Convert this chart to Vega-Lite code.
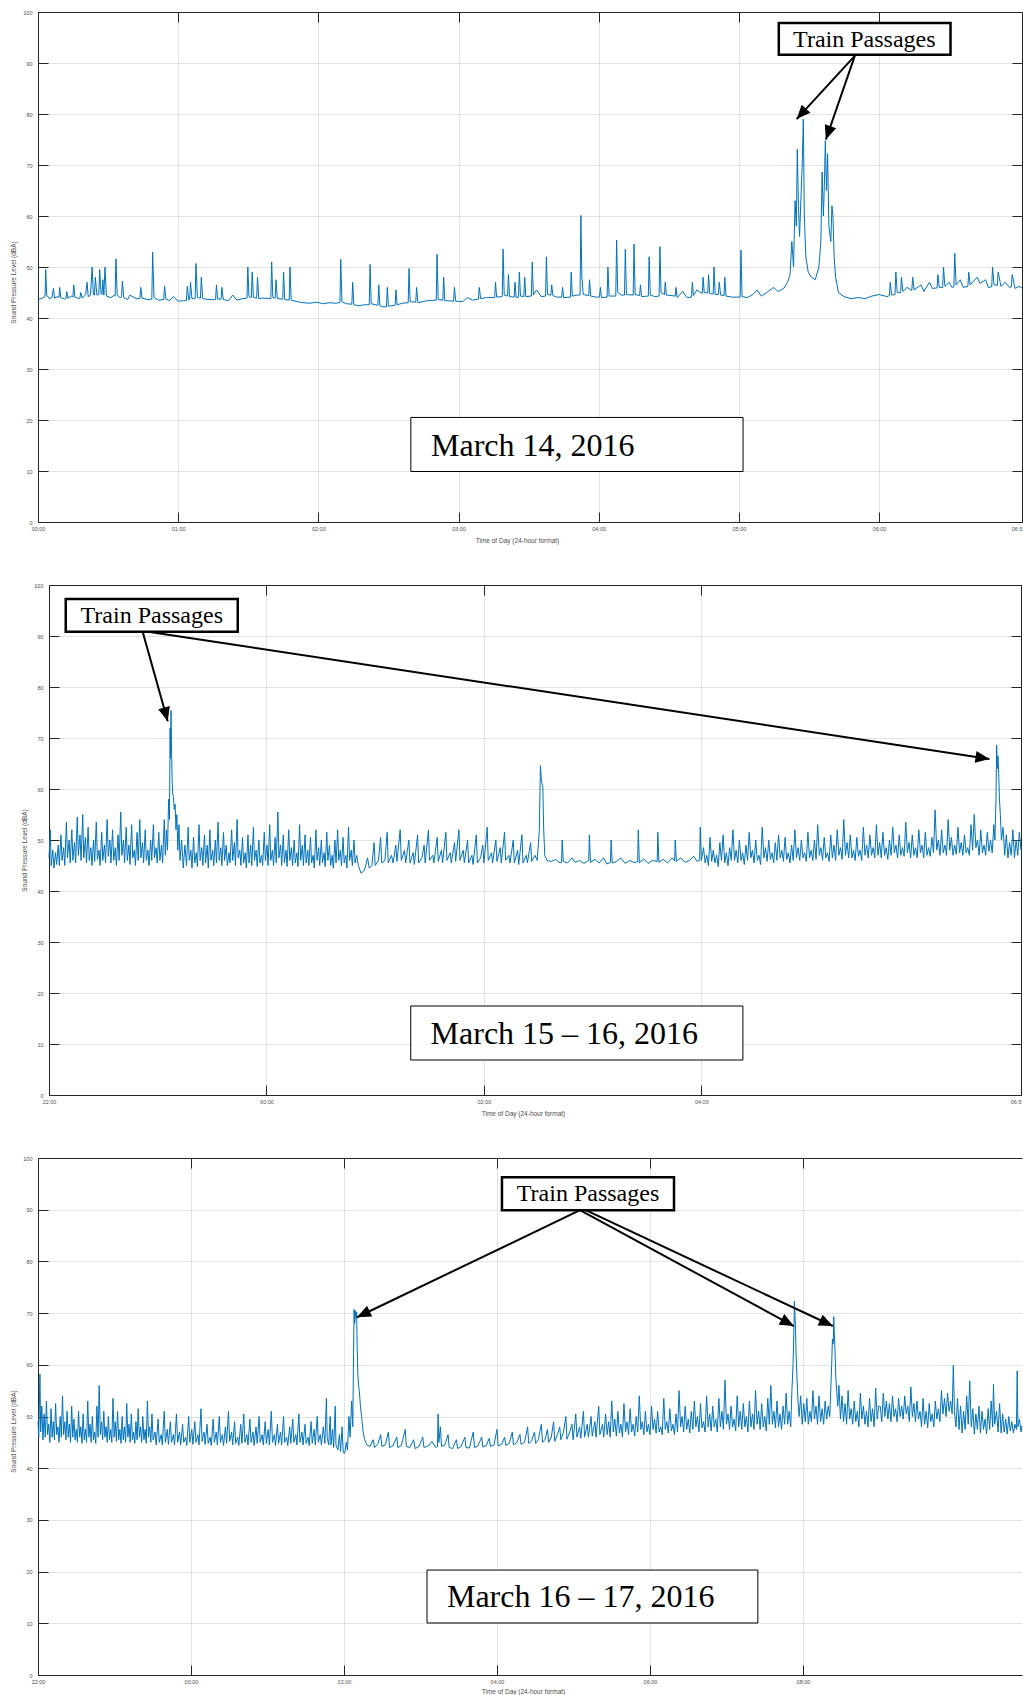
{
  "$schema": "https://vega.github.io/schema/vega-lite/v6.json",
  "padding": {"left": 10, "top": 10, "right": 0, "bottom": 0},
  "spacing": 39,
  "config": {
    "view": {"stroke": null},
    "axis": {
      "domainColor": "#262626", "domainWidth": 1,
      "tickColor": "#262626", "tickWidth": 1, "tickSize": -10,
      "labelFont": "Liberation Sans", "labelFontSize": 5.5, "labelColor": "#4d4d4d",
      "labelFlush": false, "labelOverlap": false,
      "titleFont": "Liberation Sans", "titleFontSize": 6.5, "titleFontWeight": "normal", "titleColor": "#4d4d4d",
      "titleAlign": "center", "titleBaseline": "middle",
      "gridColor": "#e3e3e3", "gridWidth": 1
    }
  },
  "datasets": {
    "boxes": [
      {"p": 1, "kind": "tp", "x": 5.285, "x2": 6.51, "y": 91.63, "y2": 97.84, "tx": 5.895, "ty": 94.6, "label": "Train Passages"},
      {"p": 1, "kind": "date", "x": 2.66, "x2": 5.03, "y": 9.9, "y2": 20.5, "tx": 3.53, "ty": 15.0, "label": "March 14, 2016"},
      {"p": 2, "kind": "tp", "x": 0.154, "x2": 1.736, "y": 90.84, "y2": 97.25, "tx": 0.945, "ty": 93.9, "label": "Train Passages"},
      {"p": 2, "kind": "date", "x": 3.327, "x2": 6.382, "y": 6.86, "y2": 17.45, "tx": 4.74, "ty": 12.0, "label": "March 15 – 16, 2016"},
      {"p": 3, "kind": "tp", "x": 6.065, "x2": 8.314, "y": 89.9, "y2": 96.3, "tx": 7.19, "ty": 93.0, "label": "Train Passages"},
      {"p": 3, "kind": "date", "x": 5.085, "x2": 9.41, "y": 10.06, "y2": 20.3, "tx": 7.094, "ty": 15.0, "label": "March 16 – 17, 2016"}
    ],
    "arrows": [
      {"p": 1, "id": "a1", "x": 5.827, "y": 91.4, "x2": 5.412, "y2": 79.0},
      {"p": 1, "id": "a2", "x": 5.827, "y": 91.4, "x2": 5.621, "y2": 75.0},
      {"p": 2, "id": "b1", "x": 0.862, "y": 90.8, "x2": 1.092, "y2": 73.3},
      {"p": 2, "id": "b2", "x": 0.927, "y": 90.8, "x2": 8.65, "y2": 65.9},
      {"p": 3, "id": "c1", "x": 7.085, "y": 89.9, "x2": 4.17, "y2": 69.2},
      {"p": 3, "id": "c2", "x": 7.085, "y": 89.9, "x2": 9.88, "y2": 67.5},
      {"p": 3, "id": "c3", "x": 7.16, "y": 89.9, "x2": 10.39, "y2": 67.5}
    ],
    "s1": [
      {"h":0.000,"v":43.6},{"h":0.030,"v":43.9},{"h":0.050,"v":44.2},{"h":0.055,"v":49.5},{"h":0.062,"v":44.5},{"h":0.080,"v":43.8},{"h":0.100,"v":44.0},{"h":0.110,"v":45.8},{"h":0.118,"v":43.9},{"h":0.140,"v":44.2},{"h":0.149,"v":44.0},{"h":0.155,"v":46.0},{"h":0.162,"v":44.0},{"h":0.190,"v":43.7},{"h":0.199,"v":43.8},{"h":0.205,"v":45.2},{"h":0.212,"v":43.9},{"h":0.240,"v":44.3},{"h":0.249,"v":44.1},{"h":0.255,"v":46.5},{"h":0.263,"v":44.1},{"h":0.290,"v":43.8},{"h":0.299,"v":43.9},{"h":0.305,"v":45.0},{"h":0.315,"v":43.9},{"h":0.340,"v":44.6},{"h":0.350,"v":47.0},{"h":0.358,"v":44.2},{"h":0.375,"v":44.5},{"h":0.386,"v":50.0},{"h":0.395,"v":44.6},{"h":0.403,"v":44.5},{"h":0.409,"v":48.0},{"h":0.420,"v":44.5},{"h":0.434,"v":44.6},{"h":0.440,"v":49.5},{"h":0.450,"v":44.8},{"h":0.457,"v":44.6},{"h":0.463,"v":47.5},{"h":0.470,"v":44.5},{"h":0.478,"v":50.0},{"h":0.488,"v":44.3},{"h":0.520,"v":44.0},{"h":0.540,"v":44.4},{"h":0.550,"v":44.3},{"h":0.556,"v":51.6},{"h":0.565,"v":44.5},{"h":0.585,"v":44.0},{"h":0.596,"v":44.1},{"h":0.602,"v":47.2},{"h":0.612,"v":44.0},{"h":0.640,"v":43.6},{"h":0.656,"v":44.5},{"h":0.700,"v":43.8},{"h":0.727,"v":43.8},{"h":0.733,"v":46.0},{"h":0.742,"v":43.9},{"h":0.780,"v":43.6},{"h":0.812,"v":43.7},{"h":0.818,"v":52.9},{"h":0.828,"v":44.0},{"h":0.860,"v":43.5},{"h":0.897,"v":43.6},{"h":0.903,"v":46.3},{"h":0.912,"v":43.7},{"h":0.940,"v":43.4},{"h":0.965,"v":44.2},{"h":1.000,"v":43.3},{"h":1.040,"v":43.4},{"h":1.059,"v":43.4},{"h":1.065,"v":46.2},{"h":1.075,"v":43.6},{"h":1.082,"v":43.6},{"h":1.088,"v":47.0},{"h":1.098,"v":43.8},{"h":1.121,"v":43.8},{"h":1.127,"v":50.7},{"h":1.137,"v":44.0},{"h":1.159,"v":43.9},{"h":1.165,"v":48.0},{"h":1.175,"v":43.8},{"h":1.220,"v":43.6},{"h":1.267,"v":43.6},{"h":1.273,"v":46.5},{"h":1.282,"v":43.7},{"h":1.306,"v":43.7},{"h":1.312,"v":46.0},{"h":1.322,"v":43.6},{"h":1.360,"v":43.4},{"h":1.389,"v":44.5},{"h":1.420,"v":43.5},{"h":1.460,"v":43.8},{"h":1.491,"v":43.9},{"h":1.497,"v":50.0},{"h":1.505,"v":44.2},{"h":1.522,"v":44.0},{"h":1.528,"v":49.0},{"h":1.537,"v":44.0},{"h":1.560,"v":43.9},{"h":1.566,"v":48.0},{"h":1.575,"v":43.8},{"h":1.600,"v":43.9},{"h":1.661,"v":43.8},{"h":1.667,"v":51.0},{"h":1.675,"v":44.0},{"h":1.692,"v":43.9},{"h":1.698,"v":47.5},{"h":1.707,"v":43.8},{"h":1.746,"v":43.7},{"h":1.752,"v":49.0},{"h":1.760,"v":43.6},{"h":1.792,"v":43.5},{"h":1.798,"v":50.0},{"h":1.806,"v":43.5},{"h":1.850,"v":43.2},{"h":1.890,"v":43.0},{"h":1.940,"v":42.9},{"h":1.991,"v":43.1},{"h":2.030,"v":42.8},{"h":2.083,"v":43.0},{"h":2.120,"v":42.9},{"h":2.154,"v":43.0},{"h":2.160,"v":51.5},{"h":2.168,"v":43.2},{"h":2.200,"v":42.8},{"h":2.239,"v":42.7},{"h":2.245,"v":47.0},{"h":2.253,"v":42.6},{"h":2.290,"v":42.4},{"h":2.330,"v":42.6},{"h":2.363,"v":42.6},{"h":2.369,"v":50.5},{"h":2.377,"v":42.8},{"h":2.425,"v":42.5},{"h":2.431,"v":46.5},{"h":2.439,"v":42.4},{"h":2.460,"v":42.2},{"h":2.486,"v":42.2},{"h":2.492,"v":46.0},{"h":2.500,"v":42.3},{"h":2.548,"v":42.5},{"h":2.554,"v":45.5},{"h":2.562,"v":42.6},{"h":2.600,"v":42.9},{"h":2.641,"v":43.0},{"h":2.647,"v":49.7},{"h":2.655,"v":43.2},{"h":2.695,"v":43.1},{"h":2.701,"v":46.0},{"h":2.710,"v":43.0},{"h":2.778,"v":43.4},{"h":2.841,"v":43.5},{"h":2.847,"v":52.5},{"h":2.855,"v":43.6},{"h":2.888,"v":43.5},{"h":2.894,"v":48.0},{"h":2.902,"v":43.4},{"h":2.965,"v":43.3},{"h":2.971,"v":46.0},{"h":2.980,"v":43.3},{"h":3.030,"v":43.2},{"h":3.063,"v":44.0},{"h":3.100,"v":43.5},{"h":3.142,"v":43.7},{"h":3.148,"v":46.0},{"h":3.158,"v":43.8},{"h":3.200,"v":44.0},{"h":3.258,"v":44.0},{"h":3.264,"v":47.0},{"h":3.272,"v":44.1},{"h":3.312,"v":44.2},{"h":3.318,"v":53.5},{"h":3.326,"v":44.5},{"h":3.350,"v":44.3},{"h":3.356,"v":48.5},{"h":3.364,"v":44.2},{"h":3.397,"v":44.1},{"h":3.403,"v":47.0},{"h":3.411,"v":44.0},{"h":3.428,"v":44.1},{"h":3.434,"v":49.0},{"h":3.442,"v":44.3},{"h":3.466,"v":44.2},{"h":3.472,"v":48.0},{"h":3.480,"v":44.2},{"h":3.520,"v":44.3},{"h":3.526,"v":51.0},{"h":3.534,"v":44.5},{"h":3.557,"v":45.5},{"h":3.590,"v":44.2},{"h":3.621,"v":44.3},{"h":3.627,"v":52.0},{"h":3.635,"v":44.6},{"h":3.659,"v":44.5},{"h":3.665,"v":46.5},{"h":3.673,"v":44.4},{"h":3.700,"v":44.1},{"h":3.736,"v":44.1},{"h":3.742,"v":46.0},{"h":3.750,"v":44.0},{"h":3.798,"v":44.1},{"h":3.804,"v":49.0},{"h":3.812,"v":44.3},{"h":3.850,"v":44.5},{"h":3.867,"v":44.5},{"h":3.873,"v":60.1},{"h":3.880,"v":48.0},{"h":3.890,"v":44.6},{"h":3.929,"v":44.4},{"h":3.935,"v":47.5},{"h":3.943,"v":44.3},{"h":3.980,"v":44.1},{"h":4.006,"v":44.1},{"h":4.012,"v":46.0},{"h":4.020,"v":44.0},{"h":4.060,"v":44.1},{"h":4.066,"v":50.0},{"h":4.074,"v":44.3},{"h":4.122,"v":44.3},{"h":4.128,"v":55.3},{"h":4.136,"v":45.0},{"h":4.160,"v":44.5},{"h":4.184,"v":44.5},{"h":4.190,"v":53.5},{"h":4.198,"v":44.6},{"h":4.246,"v":44.5},{"h":4.252,"v":54.5},{"h":4.260,"v":44.6},{"h":4.292,"v":44.4},{"h":4.298,"v":46.5},{"h":4.306,"v":44.2},{"h":4.354,"v":44.3},{"h":4.360,"v":52.0},{"h":4.368,"v":44.5},{"h":4.400,"v":44.2},{"h":4.431,"v":44.3},{"h":4.437,"v":54.0},{"h":4.445,"v":45.0},{"h":4.469,"v":44.6},{"h":4.475,"v":47.0},{"h":4.483,"v":44.5},{"h":4.546,"v":44.3},{"h":4.552,"v":46.0},{"h":4.560,"v":44.0},{"h":4.600,"v":45.2},{"h":4.630,"v":44.0},{"h":4.662,"v":44.1},{"h":4.668,"v":47.0},{"h":4.676,"v":44.4},{"h":4.700,"v":45.5},{"h":4.739,"v":44.8},{"h":4.745,"v":48.0},{"h":4.753,"v":45.0},{"h":4.778,"v":44.9},{"h":4.784,"v":48.5},{"h":4.792,"v":44.8},{"h":4.817,"v":44.7},{"h":4.823,"v":50.0},{"h":4.831,"v":44.6},{"h":4.854,"v":44.6},{"h":4.860,"v":47.0},{"h":4.870,"v":44.5},{"h":4.894,"v":44.4},{"h":4.900,"v":48.0},{"h":4.908,"v":44.3},{"h":4.950,"v":44.1},{"h":5.009,"v":44.1},{"h":5.015,"v":53.3},{"h":5.023,"v":44.2},{"h":5.060,"v":44.0},{"h":5.100,"v":44.6},{"h":5.131,"v":45.5},{"h":5.160,"v":44.3},{"h":5.200,"v":45.0},{"h":5.247,"v":46.0},{"h":5.280,"v":45.2},{"h":5.320,"v":45.8},{"h":5.347,"v":47.0},{"h":5.365,"v":48.5},{"h":5.378,"v":55.0},{"h":5.390,"v":50.0},{"h":5.401,"v":63.0},{"h":5.410,"v":58.0},{"h":5.417,"v":73.1},{"h":5.425,"v":62.0},{"h":5.433,"v":56.0},{"h":5.445,"v":65.0},{"h":5.452,"v":70.0},{"h":5.460,"v":79.0},{"h":5.467,"v":60.0},{"h":5.478,"v":52.0},{"h":5.495,"v":49.0},{"h":5.517,"v":48.0},{"h":5.545,"v":47.5},{"h":5.571,"v":50.0},{"h":5.585,"v":55.0},{"h":5.594,"v":68.6},{"h":5.603,"v":60.0},{"h":5.610,"v":66.0},{"h":5.617,"v":74.8},{"h":5.625,"v":65.0},{"h":5.633,"v":72.2},{"h":5.642,"v":58.0},{"h":5.656,"v":55.0},{"h":5.664,"v":62.0},{"h":5.671,"v":60.0},{"h":5.680,"v":52.0},{"h":5.690,"v":48.0},{"h":5.710,"v":45.0},{"h":5.750,"v":44.2},{"h":5.800,"v":43.8},{"h":5.850,"v":44.0},{"h":5.903,"v":43.8},{"h":5.950,"v":44.3},{"h":6.000,"v":44.6},{"h":6.057,"v":44.2},{"h":6.074,"v":44.4},{"h":6.080,"v":47.0},{"h":6.090,"v":44.5},{"h":6.114,"v":44.6},{"h":6.120,"v":49.0},{"h":6.130,"v":45.0},{"h":6.154,"v":45.0},{"h":6.160,"v":48.0},{"h":6.170,"v":45.2},{"h":6.200,"v":46.0},{"h":6.234,"v":45.4},{"h":6.240,"v":48.0},{"h":6.250,"v":45.5},{"h":6.300,"v":46.5},{"h":6.320,"v":45.2},{"h":6.360,"v":47.0},{"h":6.380,"v":45.8},{"h":6.414,"v":45.9},{"h":6.420,"v":48.5},{"h":6.430,"v":46.0},{"h":6.454,"v":46.0},{"h":6.460,"v":50.0},{"h":6.470,"v":46.2},{"h":6.500,"v":47.0},{"h":6.520,"v":46.0},{"h":6.534,"v":46.1},{"h":6.540,"v":52.7},{"h":6.550,"v":46.5},{"h":6.580,"v":47.5},{"h":6.600,"v":46.0},{"h":6.634,"v":46.2},{"h":6.640,"v":49.0},{"h":6.650,"v":46.5},{"h":6.700,"v":48.0},{"h":6.720,"v":46.8},{"h":6.760,"v":47.5},{"h":6.780,"v":46.0},{"h":6.804,"v":46.1},{"h":6.810,"v":50.0},{"h":6.820,"v":46.5},{"h":6.844,"v":46.4},{"h":6.850,"v":49.0},{"h":6.870,"v":46.2},{"h":6.900,"v":47.0},{"h":6.930,"v":46.0},{"h":6.944,"v":46.1},{"h":6.950,"v":48.5},{"h":6.970,"v":45.8},{"h":7.000,"v":46.2},{"h":7.020,"v":45.9}
    ],
    "s2": [
      {"h":0.000,"v":46.5},{"h":0.012,"v":52.0},{"h":0.020,"v":45.0},{"h":0.035,"v":48.0},{"h":0.045,"v":44.5},{"h":0.060,"v":47.5},{"h":0.070,"v":45.2},{"h":0.085,"v":49.0},{"h":0.095,"v":45.0},{"h":0.110,"v":51.0},{"h":0.120,"v":46.0},{"h":0.135,"v":48.5},{"h":0.145,"v":45.0},{"h":0.160,"v":53.5},{"h":0.170,"v":46.5},{"h":0.185,"v":50.0},{"h":0.195,"v":45.5},{"h":0.210,"v":52.0},{"h":0.220,"v":46.0},{"h":0.235,"v":49.5},{"h":0.245,"v":45.5},{"h":0.260,"v":54.5},{"h":0.270,"v":47.0},{"h":0.285,"v":51.0},{"h":0.295,"v":46.0},{"h":0.310,"v":55.0},{"h":0.320,"v":46.5},{"h":0.335,"v":50.5},{"h":0.345,"v":45.5},{"h":0.360,"v":52.5},{"h":0.370,"v":46.0},{"h":0.385,"v":48.5},{"h":0.395,"v":45.0},{"h":0.410,"v":50.0},{"h":0.420,"v":45.8},{"h":0.435,"v":53.5},{"h":0.445,"v":46.2},{"h":0.460,"v":48.0},{"h":0.470,"v":45.0},{"h":0.485,"v":51.5},{"h":0.495,"v":46.0},{"h":0.510,"v":49.0},{"h":0.520,"v":45.5},{"h":0.535,"v":54.0},{"h":0.545,"v":46.8},{"h":0.560,"v":50.0},{"h":0.570,"v":45.5},{"h":0.585,"v":52.0},{"h":0.595,"v":46.0},{"h":0.610,"v":48.5},{"h":0.620,"v":45.0},{"h":0.635,"v":51.0},{"h":0.645,"v":46.0},{"h":0.660,"v":55.5},{"h":0.670,"v":47.0},{"h":0.685,"v":50.0},{"h":0.695,"v":45.5},{"h":0.710,"v":52.5},{"h":0.720,"v":46.0},{"h":0.735,"v":49.0},{"h":0.745,"v":45.2},{"h":0.760,"v":53.0},{"h":0.770,"v":46.5},{"h":0.785,"v":48.0},{"h":0.795,"v":45.0},{"h":0.810,"v":51.5},{"h":0.820,"v":46.0},{"h":0.835,"v":54.0},{"h":0.845,"v":46.5},{"h":0.860,"v":49.5},{"h":0.870,"v":45.5},{"h":0.885,"v":52.0},{"h":0.895,"v":46.0},{"h":0.910,"v":48.0},{"h":0.920,"v":45.0},{"h":0.935,"v":50.0},{"h":0.945,"v":46.0},{"h":0.960,"v":53.0},{"h":0.970,"v":46.5},{"h":0.985,"v":48.5},{"h":0.995,"v":45.5},{"h":1.010,"v":51.5},{"h":1.020,"v":46.0},{"h":1.035,"v":49.0},{"h":1.045,"v":45.5},{"h":1.060,"v":54.0},{"h":1.070,"v":47.0},{"h":1.080,"v":52.0},{"h":1.090,"v":48.0},{"h":1.100,"v":58.0},{"h":1.108,"v":54.0},{"h":1.114,"v":72.0},{"h":1.118,"v":66.0},{"h":1.122,"v":75.4},{"h":1.127,"v":68.0},{"h":1.132,"v":62.0},{"h":1.138,"v":59.0},{"h":1.145,"v":58.5},{"h":1.152,"v":56.0},{"h":1.160,"v":57.0},{"h":1.168,"v":52.0},{"h":1.176,"v":55.0},{"h":1.185,"v":48.0},{"h":1.195,"v":53.0},{"h":1.205,"v":46.0},{"h":1.220,"v":50.0},{"h":1.235,"v":44.5},{"h":1.250,"v":49.0},{"h":1.265,"v":45.0},{"h":1.280,"v":52.5},{"h":1.290,"v":46.0},{"h":1.305,"v":48.0},{"h":1.315,"v":44.5},{"h":1.330,"v":50.5},{"h":1.340,"v":45.5},{"h":1.355,"v":47.5},{"h":1.365,"v":44.8},{"h":1.380,"v":53.0},{"h":1.390,"v":46.0},{"h":1.405,"v":48.5},{"h":1.415,"v":45.0},{"h":1.430,"v":51.0},{"h":1.440,"v":45.5},{"h":1.455,"v":49.0},{"h":1.465,"v":44.5},{"h":1.480,"v":52.0},{"h":1.490,"v":46.0},{"h":1.505,"v":48.0},{"h":1.515,"v":45.0},{"h":1.530,"v":50.0},{"h":1.540,"v":45.5},{"h":1.555,"v":53.5},{"h":1.565,"v":46.0},{"h":1.580,"v":48.5},{"h":1.590,"v":45.0},{"h":1.605,"v":51.5},{"h":1.615,"v":46.0},{"h":1.630,"v":49.0},{"h":1.640,"v":45.0},{"h":1.655,"v":47.5},{"h":1.665,"v":45.5},{"h":1.680,"v":52.0},{"h":1.690,"v":46.0},{"h":1.705,"v":49.5},{"h":1.715,"v":45.0},{"h":1.730,"v":54.0},{"h":1.740,"v":46.5},{"h":1.755,"v":48.0},{"h":1.765,"v":45.0},{"h":1.780,"v":50.5},{"h":1.790,"v":45.5},{"h":1.805,"v":47.5},{"h":1.815,"v":44.5},{"h":1.830,"v":51.0},{"h":1.840,"v":45.5},{"h":1.855,"v":49.0},{"h":1.865,"v":45.0},{"h":1.880,"v":52.5},{"h":1.890,"v":46.0},{"h":1.905,"v":48.0},{"h":1.915,"v":44.8},{"h":1.930,"v":50.0},{"h":1.940,"v":45.5},{"h":1.955,"v":47.0},{"h":1.965,"v":45.0},{"h":1.980,"v":51.5},{"h":1.990,"v":46.0},{"h":2.005,"v":49.0},{"h":2.015,"v":45.0},{"h":2.030,"v":53.0},{"h":2.040,"v":46.0},{"h":2.055,"v":48.0},{"h":2.065,"v":45.0},{"h":2.080,"v":50.5},{"h":2.090,"v":45.5},{"h":2.105,"v":55.5},{"h":2.115,"v":46.5},{"h":2.130,"v":49.0},{"h":2.140,"v":45.0},{"h":2.155,"v":51.0},{"h":2.165,"v":45.5},{"h":2.180,"v":48.0},{"h":2.190,"v":44.8},{"h":2.205,"v":52.0},{"h":2.215,"v":46.0},{"h":2.230,"v":48.5},{"h":2.240,"v":45.0},{"h":2.255,"v":50.0},{"h":2.265,"v":45.5},{"h":2.280,"v":47.5},{"h":2.290,"v":44.8},{"h":2.305,"v":53.0},{"h":2.315,"v":46.0},{"h":2.330,"v":49.0},{"h":2.340,"v":45.0},{"h":2.355,"v":51.0},{"h":2.365,"v":45.5},{"h":2.380,"v":48.0},{"h":2.390,"v":45.0},{"h":2.405,"v":50.5},{"h":2.415,"v":45.5},{"h":2.430,"v":47.0},{"h":2.440,"v":44.5},{"h":2.455,"v":52.0},{"h":2.465,"v":46.0},{"h":2.480,"v":48.5},{"h":2.490,"v":45.0},{"h":2.505,"v":50.0},{"h":2.515,"v":45.5},{"h":2.530,"v":47.5},{"h":2.540,"v":44.8},{"h":2.555,"v":51.5},{"h":2.565,"v":46.0},{"h":2.580,"v":49.0},{"h":2.590,"v":45.0},{"h":2.605,"v":47.0},{"h":2.615,"v":44.5},{"h":2.630,"v":50.0},{"h":2.640,"v":45.5},{"h":2.655,"v":52.0},{"h":2.665,"v":46.0},{"h":2.680,"v":48.0},{"h":2.690,"v":45.0},{"h":2.705,"v":50.5},{"h":2.715,"v":45.5},{"h":2.730,"v":47.0},{"h":2.740,"v":44.5},{"h":2.755,"v":52.5},{"h":2.765,"v":46.0},{"h":2.780,"v":48.0},{"h":2.790,"v":45.0},{"h":2.805,"v":50.0},{"h":2.815,"v":45.5},{"h":2.830,"v":47.0},{"h":2.845,"v":45.0},{"h":2.870,"v":43.5},{"h":2.900,"v":44.0},{"h":2.930,"v":46.5},{"h":2.945,"v":44.5},{"h":2.970,"v":45.0},{"h":2.990,"v":49.5},{"h":3.000,"v":45.0},{"h":3.030,"v":46.0},{"h":3.050,"v":50.5},{"h":3.060,"v":45.5},{"h":3.090,"v":46.0},{"h":3.110,"v":51.5},{"h":3.120,"v":45.5},{"h":3.150,"v":47.0},{"h":3.165,"v":45.5},{"h":3.190,"v":49.0},{"h":3.200,"v":45.8},{"h":3.230,"v":52.0},{"h":3.240,"v":46.0},{"h":3.270,"v":48.0},{"h":3.280,"v":45.5},{"h":3.310,"v":50.0},{"h":3.320,"v":45.5},{"h":3.350,"v":47.5},{"h":3.360,"v":45.2},{"h":3.390,"v":51.0},{"h":3.400,"v":45.5},{"h":3.430,"v":46.5},{"h":3.450,"v":49.0},{"h":3.460,"v":45.5},{"h":3.490,"v":52.0},{"h":3.500,"v":46.0},{"h":3.530,"v":47.0},{"h":3.540,"v":45.5},{"h":3.570,"v":50.5},{"h":3.580,"v":45.8},{"h":3.610,"v":48.0},{"h":3.620,"v":45.5},{"h":3.650,"v":51.5},{"h":3.660,"v":46.0},{"h":3.690,"v":47.5},{"h":3.700,"v":45.5},{"h":3.730,"v":49.5},{"h":3.740,"v":45.8},{"h":3.770,"v":52.0},{"h":3.780,"v":46.0},{"h":3.810,"v":48.0},{"h":3.820,"v":45.5},{"h":3.850,"v":50.0},{"h":3.860,"v":45.5},{"h":3.890,"v":47.0},{"h":3.900,"v":45.2},{"h":3.930,"v":51.0},{"h":3.940,"v":45.5},{"h":3.970,"v":46.5},{"h":3.990,"v":49.0},{"h":4.000,"v":45.5},{"h":4.030,"v":52.5},{"h":4.040,"v":46.0},{"h":4.070,"v":47.5},{"h":4.080,"v":45.5},{"h":4.110,"v":50.0},{"h":4.120,"v":45.8},{"h":4.150,"v":48.5},{"h":4.160,"v":45.5},{"h":4.190,"v":51.5},{"h":4.200,"v":46.0},{"h":4.230,"v":47.0},{"h":4.240,"v":45.5},{"h":4.270,"v":50.0},{"h":4.280,"v":45.5},{"h":4.310,"v":48.0},{"h":4.320,"v":45.2},{"h":4.350,"v":51.0},{"h":4.360,"v":45.5},{"h":4.390,"v":47.0},{"h":4.400,"v":45.5},{"h":4.430,"v":49.5},{"h":4.440,"v":45.8},{"h":4.470,"v":47.0},{"h":4.490,"v":46.0},{"h":4.510,"v":52.0},{"h":4.520,"v":64.6},{"h":4.528,"v":62.0},{"h":4.535,"v":61.0},{"h":4.542,"v":60.5},{"h":4.550,"v":52.0},{"h":4.560,"v":47.0},{"h":4.580,"v":46.0},{"h":4.620,"v":45.8},{"h":4.660,"v":46.2},{"h":4.700,"v":45.5},{"h":4.714,"v":45.6},{"h":4.720,"v":50.0},{"h":4.730,"v":45.8},{"h":4.770,"v":45.5},{"h":4.810,"v":46.5},{"h":4.840,"v":45.6},{"h":4.880,"v":46.0},{"h":4.920,"v":45.4},{"h":4.964,"v":46.0},{"h":4.970,"v":51.0},{"h":4.980,"v":45.6},{"h":5.020,"v":46.2},{"h":5.060,"v":45.5},{"h":5.100,"v":46.5},{"h":5.130,"v":45.3},{"h":5.164,"v":45.6},{"h":5.170,"v":50.0},{"h":5.180,"v":45.5},{"h":5.220,"v":45.8},{"h":5.260,"v":46.5},{"h":5.300,"v":45.4},{"h":5.340,"v":46.0},{"h":5.380,"v":45.6},{"h":5.414,"v":45.7},{"h":5.420,"v":52.0},{"h":5.430,"v":45.5},{"h":5.470,"v":46.3},{"h":5.510,"v":45.4},{"h":5.550,"v":46.0},{"h":5.594,"v":45.8},{"h":5.600,"v":51.5},{"h":5.610,"v":45.6},{"h":5.650,"v":46.2},{"h":5.690,"v":45.5},{"h":5.730,"v":46.5},{"h":5.754,"v":45.9},{"h":5.760,"v":50.0},{"h":5.770,"v":45.8},{"h":5.810,"v":46.5},{"h":5.850,"v":45.6},{"h":5.890,"v":46.0},{"h":5.930,"v":46.8},{"h":5.960,"v":45.8},{"h":5.984,"v":46.0},{"h":5.990,"v":52.5},{"h":6.000,"v":46.0},{"h":6.020,"v":48.5},{"h":6.035,"v":45.5},{"h":6.050,"v":47.0},{"h":6.065,"v":45.0},{"h":6.080,"v":50.5},{"h":6.095,"v":45.8},{"h":6.110,"v":48.0},{"h":6.125,"v":45.5},{"h":6.140,"v":47.0},{"h":6.155,"v":44.8},{"h":6.170,"v":49.5},{"h":6.185,"v":46.0},{"h":6.200,"v":51.0},{"h":6.215,"v":45.5},{"h":6.230,"v":47.5},{"h":6.245,"v":45.0},{"h":6.260,"v":48.5},{"h":6.275,"v":46.0},{"h":6.290,"v":52.0},{"h":6.305,"v":46.0},{"h":6.320,"v":48.0},{"h":6.335,"v":45.5},{"h":6.350,"v":50.0},{"h":6.365,"v":46.0},{"h":6.380,"v":47.5},{"h":6.395,"v":45.2},{"h":6.410,"v":49.0},{"h":6.425,"v":46.0},{"h":6.440,"v":51.5},{"h":6.455,"v":46.5},{"h":6.470,"v":48.0},{"h":6.485,"v":45.5},{"h":6.500,"v":50.0},{"h":6.515,"v":46.0},{"h":6.530,"v":47.0},{"h":6.545,"v":45.2},{"h":6.560,"v":52.5},{"h":6.575,"v":46.5},{"h":6.590,"v":48.5},{"h":6.605,"v":45.8},{"h":6.620,"v":50.0},{"h":6.635,"v":46.2},{"h":6.650,"v":47.5},{"h":6.665,"v":45.5},{"h":6.680,"v":49.5},{"h":6.695,"v":46.0},{"h":6.710,"v":51.0},{"h":6.725,"v":46.5},{"h":6.740,"v":48.0},{"h":6.755,"v":45.8},{"h":6.770,"v":50.5},{"h":6.785,"v":46.2},{"h":6.800,"v":47.5},{"h":6.815,"v":45.5},{"h":6.830,"v":49.0},{"h":6.845,"v":46.0},{"h":6.860,"v":52.0},{"h":6.875,"v":46.5},{"h":6.890,"v":48.5},{"h":6.905,"v":46.0},{"h":6.920,"v":50.0},{"h":6.935,"v":46.5},{"h":6.950,"v":47.5},{"h":6.965,"v":45.8},{"h":6.980,"v":51.5},{"h":6.995,"v":46.5},{"h":7.010,"v":48.0},{"h":7.025,"v":46.0},{"h":7.040,"v":50.0},{"h":7.055,"v":46.2},{"h":7.070,"v":53.0},{"h":7.085,"v":47.0},{"h":7.100,"v":48.5},{"h":7.115,"v":46.0},{"h":7.130,"v":50.5},{"h":7.145,"v":46.5},{"h":7.160,"v":47.5},{"h":7.175,"v":45.8},{"h":7.190,"v":51.0},{"h":7.205,"v":46.5},{"h":7.220,"v":49.0},{"h":7.235,"v":46.0},{"h":7.250,"v":52.0},{"h":7.265,"v":47.0},{"h":7.280,"v":48.5},{"h":7.295,"v":46.2},{"h":7.310,"v":54.0},{"h":7.325,"v":47.0},{"h":7.340,"v":49.5},{"h":7.355,"v":46.5},{"h":7.370,"v":51.0},{"h":7.385,"v":46.5},{"h":7.400,"v":48.0},{"h":7.415,"v":46.0},{"h":7.430,"v":50.5},{"h":7.445,"v":46.8},{"h":7.460,"v":48.0},{"h":7.475,"v":46.0},{"h":7.490,"v":52.5},{"h":7.505,"v":47.0},{"h":7.520,"v":49.0},{"h":7.535,"v":46.5},{"h":7.550,"v":51.0},{"h":7.565,"v":47.0},{"h":7.580,"v":48.5},{"h":7.595,"v":46.5},{"h":7.610,"v":53.0},{"h":7.625,"v":47.0},{"h":7.640,"v":49.5},{"h":7.655,"v":46.5},{"h":7.670,"v":51.5},{"h":7.685,"v":47.0},{"h":7.700,"v":48.5},{"h":7.715,"v":46.2},{"h":7.730,"v":50.0},{"h":7.745,"v":47.0},{"h":7.760,"v":52.5},{"h":7.775,"v":47.5},{"h":7.790,"v":49.0},{"h":7.805,"v":46.5},{"h":7.820,"v":51.0},{"h":7.835,"v":47.0},{"h":7.850,"v":48.5},{"h":7.865,"v":46.8},{"h":7.880,"v":53.5},{"h":7.895,"v":47.5},{"h":7.910,"v":49.5},{"h":7.925,"v":46.5},{"h":7.940,"v":51.0},{"h":7.955,"v":47.0},{"h":7.970,"v":48.5},{"h":7.985,"v":46.5},{"h":8.000,"v":52.0},{"h":8.015,"v":47.5},{"h":8.030,"v":49.0},{"h":8.045,"v":46.5},{"h":8.060,"v":51.5},{"h":8.075,"v":47.0},{"h":8.090,"v":48.5},{"h":8.105,"v":46.8},{"h":8.120,"v":50.5},{"h":8.135,"v":47.5},{"h":8.150,"v":55.9},{"h":8.165,"v":48.0},{"h":8.180,"v":50.0},{"h":8.195,"v":47.0},{"h":8.210,"v":52.0},{"h":8.225,"v":47.5},{"h":8.240,"v":49.0},{"h":8.255,"v":47.0},{"h":8.270,"v":54.0},{"h":8.285,"v":48.0},{"h":8.300,"v":50.5},{"h":8.315,"v":47.0},{"h":8.330,"v":49.0},{"h":8.345,"v":47.2},{"h":8.360,"v":52.5},{"h":8.375,"v":47.5},{"h":8.390,"v":49.5},{"h":8.405,"v":47.0},{"h":8.420,"v":51.0},{"h":8.435,"v":47.5},{"h":8.450,"v":48.5},{"h":8.465,"v":47.0},{"h":8.480,"v":53.0},{"h":8.495,"v":48.0},{"h":8.510,"v":55.0},{"h":8.525,"v":48.5},{"h":8.540,"v":50.0},{"h":8.555,"v":47.0},{"h":8.570,"v":52.0},{"h":8.585,"v":47.5},{"h":8.600,"v":49.0},{"h":8.615,"v":47.0},{"h":8.630,"v":51.5},{"h":8.645,"v":47.8},{"h":8.660,"v":50.0},{"h":8.675,"v":47.5},{"h":8.690,"v":53.0},{"h":8.700,"v":50.0},{"h":8.710,"v":58.0},{"h":8.716,"v":68.6},{"h":8.722,"v":64.0},{"h":8.728,"v":66.5},{"h":8.735,"v":63.0},{"h":8.742,"v":58.0},{"h":8.750,"v":55.0},{"h":8.760,"v":50.0},{"h":8.775,"v":52.5},{"h":8.790,"v":47.0},{"h":8.805,"v":51.0},{"h":8.820,"v":46.5},{"h":8.835,"v":49.5},{"h":8.850,"v":47.0},{"h":8.865,"v":52.0},{"h":8.880,"v":46.5},{"h":8.895,"v":50.0},{"h":8.910,"v":47.0},{"h":8.925,"v":51.5},{"h":8.940,"v":48.0}
    ],
    "s3": [
      {"h":0.000,"v":49.0},{"h":0.010,"v":46.0},{"h":0.025,"v":58.2},{"h":0.035,"v":47.0},{"h":0.050,"v":52.0},{"h":0.065,"v":45.5},{"h":0.080,"v":50.5},{"h":0.095,"v":46.0},{"h":0.110,"v":53.0},{"h":0.125,"v":46.5},{"h":0.140,"v":48.5},{"h":0.155,"v":45.0},{"h":0.170,"v":51.5},{"h":0.185,"v":46.0},{"h":0.200,"v":49.0},{"h":0.215,"v":45.5},{"h":0.230,"v":52.5},{"h":0.245,"v":46.5},{"h":0.260,"v":48.0},{"h":0.275,"v":45.0},{"h":0.290,"v":50.0},{"h":0.305,"v":46.0},{"h":0.320,"v":54.0},{"h":0.335,"v":46.5},{"h":0.350,"v":49.0},{"h":0.365,"v":45.5},{"h":0.380,"v":51.0},{"h":0.395,"v":46.0},{"h":0.410,"v":48.5},{"h":0.425,"v":45.0},{"h":0.440,"v":52.0},{"h":0.455,"v":46.0},{"h":0.470,"v":49.5},{"h":0.485,"v":45.5},{"h":0.500,"v":47.5},{"h":0.515,"v":45.0},{"h":0.530,"v":51.0},{"h":0.545,"v":46.0},{"h":0.560,"v":48.0},{"h":0.575,"v":44.8},{"h":0.590,"v":50.5},{"h":0.605,"v":45.5},{"h":0.620,"v":47.5},{"h":0.635,"v":45.0},{"h":0.650,"v":53.0},{"h":0.665,"v":46.0},{"h":0.680,"v":48.5},{"h":0.695,"v":45.0},{"h":0.710,"v":50.0},{"h":0.725,"v":45.5},{"h":0.740,"v":47.0},{"h":0.755,"v":44.8},{"h":0.770,"v":52.0},{"h":0.785,"v":46.0},{"h":0.800,"v":56.0},{"h":0.815,"v":46.5},{"h":0.830,"v":49.0},{"h":0.845,"v":45.5},{"h":0.860,"v":51.0},{"h":0.875,"v":46.0},{"h":0.890,"v":48.0},{"h":0.905,"v":45.0},{"h":0.920,"v":50.0},{"h":0.935,"v":45.5},{"h":0.950,"v":47.5},{"h":0.965,"v":45.0},{"h":0.980,"v":53.5},{"h":0.995,"v":46.0},{"h":1.010,"v":49.0},{"h":1.025,"v":45.2},{"h":1.040,"v":51.0},{"h":1.055,"v":45.5},{"h":1.070,"v":47.5},{"h":1.085,"v":44.8},{"h":1.100,"v":50.0},{"h":1.115,"v":45.5},{"h":1.130,"v":48.0},{"h":1.145,"v":45.0},{"h":1.160,"v":52.5},{"h":1.175,"v":46.0},{"h":1.190,"v":48.5},{"h":1.205,"v":45.0},{"h":1.220,"v":50.5},{"h":1.235,"v":45.5},{"h":1.250,"v":47.0},{"h":1.265,"v":44.8},{"h":1.280,"v":49.0},{"h":1.295,"v":45.5},{"h":1.310,"v":51.5},{"h":1.325,"v":46.0},{"h":1.340,"v":48.0},{"h":1.355,"v":45.0},{"h":1.370,"v":50.0},{"h":1.385,"v":45.5},{"h":1.400,"v":47.5},{"h":1.415,"v":44.8},{"h":1.430,"v":53.0},{"h":1.445,"v":46.0},{"h":1.460,"v":48.0},{"h":1.475,"v":45.0},{"h":1.490,"v":50.5},{"h":1.505,"v":45.5},{"h":1.530,"v":47.0},{"h":1.545,"v":44.5},{"h":1.570,"v":49.5},{"h":1.585,"v":45.0},{"h":1.610,"v":46.5},{"h":1.625,"v":44.5},{"h":1.650,"v":51.0},{"h":1.665,"v":45.0},{"h":1.690,"v":47.5},{"h":1.705,"v":44.6},{"h":1.730,"v":49.0},{"h":1.745,"v":45.0},{"h":1.770,"v":46.5},{"h":1.785,"v":44.5},{"h":1.810,"v":50.5},{"h":1.825,"v":45.0},{"h":1.850,"v":47.0},{"h":1.865,"v":44.5},{"h":1.890,"v":48.5},{"h":1.905,"v":45.0},{"h":1.930,"v":46.0},{"h":1.945,"v":44.4},{"h":1.970,"v":50.0},{"h":1.985,"v":45.0},{"h":2.010,"v":47.5},{"h":2.025,"v":44.6},{"h":2.050,"v":49.0},{"h":2.065,"v":45.0},{"h":2.090,"v":46.5},{"h":2.105,"v":44.5},{"h":2.130,"v":51.5},{"h":2.145,"v":45.2},{"h":2.170,"v":47.0},{"h":2.185,"v":44.6},{"h":2.210,"v":48.5},{"h":2.225,"v":44.8},{"h":2.250,"v":46.0},{"h":2.265,"v":44.4},{"h":2.290,"v":49.5},{"h":2.305,"v":45.0},{"h":2.330,"v":47.0},{"h":2.345,"v":44.5},{"h":2.370,"v":50.0},{"h":2.385,"v":45.0},{"h":2.410,"v":46.5},{"h":2.425,"v":44.4},{"h":2.450,"v":48.0},{"h":2.465,"v":44.8},{"h":2.490,"v":51.0},{"h":2.505,"v":45.2},{"h":2.530,"v":47.0},{"h":2.545,"v":44.5},{"h":2.570,"v":49.0},{"h":2.585,"v":44.8},{"h":2.610,"v":46.0},{"h":2.625,"v":44.4},{"h":2.650,"v":48.5},{"h":2.665,"v":44.8},{"h":2.690,"v":50.5},{"h":2.705,"v":45.0},{"h":2.730,"v":46.5},{"h":2.745,"v":44.5},{"h":2.770,"v":49.5},{"h":2.785,"v":45.0},{"h":2.810,"v":47.0},{"h":2.825,"v":44.4},{"h":2.850,"v":48.0},{"h":2.865,"v":44.8},{"h":2.890,"v":50.0},{"h":2.905,"v":45.0},{"h":2.930,"v":46.5},{"h":2.945,"v":44.5},{"h":2.970,"v":49.0},{"h":2.985,"v":44.8},{"h":3.010,"v":47.5},{"h":3.025,"v":44.5},{"h":3.050,"v":51.0},{"h":3.065,"v":45.0},{"h":3.090,"v":46.5},{"h":3.105,"v":44.4},{"h":3.130,"v":48.5},{"h":3.145,"v":44.8},{"h":3.170,"v":47.0},{"h":3.185,"v":44.5},{"h":3.210,"v":50.0},{"h":3.225,"v":45.0},{"h":3.250,"v":46.0},{"h":3.265,"v":44.4},{"h":3.290,"v":48.0},{"h":3.305,"v":44.8},{"h":3.330,"v":49.5},{"h":3.345,"v":45.0},{"h":3.370,"v":46.5},{"h":3.385,"v":44.5},{"h":3.410,"v":50.5},{"h":3.425,"v":45.0},{"h":3.450,"v":47.0},{"h":3.465,"v":44.5},{"h":3.490,"v":48.5},{"h":3.505,"v":44.8},{"h":3.530,"v":46.0},{"h":3.545,"v":44.4},{"h":3.570,"v":49.0},{"h":3.585,"v":44.8},{"h":3.610,"v":47.5},{"h":3.625,"v":44.5},{"h":3.650,"v":50.0},{"h":3.665,"v":45.0},{"h":3.690,"v":46.5},{"h":3.705,"v":44.5},{"h":3.730,"v":48.0},{"h":3.750,"v":44.8},{"h":3.770,"v":53.5},{"h":3.780,"v":46.0},{"h":3.800,"v":44.5},{"h":3.820,"v":50.0},{"h":3.830,"v":44.5},{"h":3.850,"v":47.5},{"h":3.865,"v":44.0},{"h":3.885,"v":52.0},{"h":3.895,"v":44.5},{"h":3.920,"v":43.5},{"h":3.940,"v":46.5},{"h":3.955,"v":43.2},{"h":3.975,"v":48.0},{"h":3.990,"v":43.0},{"h":4.010,"v":42.9},{"h":4.030,"v":45.0},{"h":4.045,"v":43.5},{"h":4.065,"v":50.0},{"h":4.080,"v":46.0},{"h":4.100,"v":53.0},{"h":4.115,"v":48.0},{"h":4.125,"v":62.0},{"h":4.132,"v":70.7},{"h":4.140,"v":68.0},{"h":4.148,"v":70.5},{"h":4.156,"v":69.0},{"h":4.165,"v":70.2},{"h":4.172,"v":64.0},{"h":4.180,"v":58.6},{"h":4.190,"v":56.0},{"h":4.200,"v":55.0},{"h":4.215,"v":52.0},{"h":4.230,"v":50.0},{"h":4.250,"v":47.0},{"h":4.270,"v":45.5},{"h":4.300,"v":44.5},{"h":4.340,"v":44.2},{"h":4.380,"v":45.5},{"h":4.400,"v":44.0},{"h":4.440,"v":44.6},{"h":4.480,"v":46.5},{"h":4.495,"v":44.2},{"h":4.540,"v":44.5},{"h":4.580,"v":47.0},{"h":4.595,"v":44.0},{"h":4.640,"v":44.3},{"h":4.690,"v":46.0},{"h":4.705,"v":44.0},{"h":4.750,"v":44.4},{"h":4.800,"v":47.5},{"h":4.815,"v":44.2},{"h":4.860,"v":44.0},{"h":4.910,"v":45.5},{"h":4.930,"v":43.8},{"h":4.980,"v":44.2},{"h":5.030,"v":46.0},{"h":5.045,"v":44.0},{"h":5.100,"v":44.3},{"h":5.150,"v":45.2},{"h":5.200,"v":44.0},{"h":5.222,"v":44.2},{"h":5.230,"v":50.5},{"h":5.240,"v":45.0},{"h":5.260,"v":48.0},{"h":5.275,"v":44.2},{"h":5.320,"v":44.5},{"h":5.360,"v":46.5},{"h":5.375,"v":44.0},{"h":5.420,"v":43.8},{"h":5.470,"v":45.5},{"h":5.485,"v":43.8},{"h":5.530,"v":44.2},{"h":5.580,"v":46.0},{"h":5.595,"v":44.0},{"h":5.640,"v":43.9},{"h":5.690,"v":47.0},{"h":5.705,"v":44.0},{"h":5.750,"v":44.3},{"h":5.800,"v":46.0},{"h":5.815,"v":44.1},{"h":5.860,"v":44.4},{"h":5.900,"v":45.8},{"h":5.915,"v":44.2},{"h":5.960,"v":44.5},{"h":6.000,"v":47.5},{"h":6.015,"v":44.3},{"h":6.060,"v":44.6},{"h":6.100,"v":46.0},{"h":6.115,"v":44.4},{"h":6.160,"v":44.8},{"h":6.200,"v":47.0},{"h":6.215,"v":44.5},{"h":6.260,"v":45.0},{"h":6.300,"v":46.5},{"h":6.315,"v":44.6},{"h":6.360,"v":45.0},{"h":6.400,"v":48.0},{"h":6.415,"v":44.8},{"h":6.450,"v":45.2},{"h":6.490,"v":47.0},{"h":6.505,"v":44.8},{"h":6.540,"v":45.5},{"h":6.580,"v":48.5},{"h":6.595,"v":45.0},{"h":6.630,"v":45.6},{"h":6.660,"v":47.5},{"h":6.675,"v":45.0},{"h":6.710,"v":46.0},{"h":6.740,"v":49.0},{"h":6.755,"v":45.2},{"h":6.790,"v":46.5},{"h":6.820,"v":48.0},{"h":6.835,"v":45.5},{"h":6.870,"v":47.0},{"h":6.900,"v":50.0},{"h":6.915,"v":45.6},{"h":6.950,"v":47.0},{"h":6.980,"v":48.5},{"h":6.995,"v":45.5},{"h":7.030,"v":50.5},{"h":7.045,"v":46.0},{"h":7.080,"v":48.0},{"h":7.095,"v":45.8},{"h":7.130,"v":51.0},{"h":7.145,"v":46.0},{"h":7.180,"v":48.5},{"h":7.195,"v":46.0},{"h":7.230,"v":50.0},{"h":7.245,"v":46.2},{"h":7.280,"v":49.0},{"h":7.295,"v":46.0},{"h":7.330,"v":52.0},{"h":7.345,"v":46.5},{"h":7.380,"v":48.5},{"h":7.395,"v":46.0},{"h":7.420,"v":50.5},{"h":7.440,"v":46.5},{"h":7.460,"v":49.0},{"h":7.480,"v":46.0},{"h":7.500,"v":53.0},{"h":7.520,"v":47.0},{"h":7.540,"v":49.5},{"h":7.560,"v":46.2},{"h":7.580,"v":51.0},{"h":7.600,"v":46.8},{"h":7.620,"v":48.5},{"h":7.640,"v":46.0},{"h":7.660,"v":52.5},{"h":7.680,"v":47.0},{"h":7.700,"v":49.0},{"h":7.720,"v":46.5},{"h":7.740,"v":51.5},{"h":7.760,"v":47.0},{"h":7.780,"v":48.5},{"h":7.800,"v":46.2},{"h":7.820,"v":50.0},{"h":7.840,"v":47.0},{"h":7.860,"v":54.0},{"h":7.880,"v":47.5},{"h":7.900,"v":49.0},{"h":7.920,"v":46.5},{"h":7.940,"v":51.0},{"h":7.960,"v":47.0},{"h":7.980,"v":48.5},{"h":8.000,"v":46.5},{"h":8.020,"v":52.0},{"h":8.040,"v":47.5},{"h":8.060,"v":49.5},{"h":8.080,"v":46.8},{"h":8.100,"v":51.0},{"h":8.120,"v":47.0},{"h":8.140,"v":48.0},{"h":8.160,"v":46.5},{"h":8.180,"v":53.5},{"h":8.200,"v":47.5},{"h":8.220,"v":49.0},{"h":8.240,"v":46.8},{"h":8.260,"v":51.5},{"h":8.280,"v":47.2},{"h":8.300,"v":48.5},{"h":8.320,"v":46.5},{"h":8.340,"v":50.5},{"h":8.360,"v":47.0},{"h":8.380,"v":55.0},{"h":8.400,"v":48.0},{"h":8.420,"v":50.0},{"h":8.440,"v":47.0},{"h":8.460,"v":52.0},{"h":8.480,"v":47.5},{"h":8.500,"v":49.5},{"h":8.520,"v":46.8},{"h":8.540,"v":51.0},{"h":8.560,"v":47.5},{"h":8.580,"v":53.0},{"h":8.600,"v":48.0},{"h":8.620,"v":50.0},{"h":8.640,"v":47.0},{"h":8.660,"v":52.5},{"h":8.680,"v":47.8},{"h":8.700,"v":49.0},{"h":8.720,"v":47.0},{"h":8.740,"v":54.0},{"h":8.760,"v":48.0},{"h":8.780,"v":50.5},{"h":8.800,"v":47.2},{"h":8.820,"v":52.0},{"h":8.840,"v":48.0},{"h":8.860,"v":49.5},{"h":8.880,"v":47.0},{"h":8.900,"v":53.5},{"h":8.920,"v":48.0},{"h":8.940,"v":51.0},{"h":8.960,"v":47.5},{"h":8.980,"v":57.0},{"h":9.000,"v":48.5},{"h":9.020,"v":50.5},{"h":9.040,"v":47.5},{"h":9.060,"v":52.0},{"h":9.080,"v":48.0},{"h":9.100,"v":49.5},{"h":9.120,"v":47.2},{"h":9.140,"v":54.0},{"h":9.160,"v":48.0},{"h":9.180,"v":51.0},{"h":9.200,"v":47.5},{"h":9.220,"v":52.5},{"h":9.240,"v":48.0},{"h":9.260,"v":50.0},{"h":9.280,"v":47.0},{"h":9.300,"v":53.0},{"h":9.320,"v":48.0},{"h":9.340,"v":50.5},{"h":9.360,"v":47.5},{"h":9.380,"v":55.0},{"h":9.400,"v":48.5},{"h":9.420,"v":51.0},{"h":9.440,"v":47.5},{"h":9.460,"v":52.5},{"h":9.480,"v":48.0},{"h":9.500,"v":50.0},{"h":9.520,"v":47.2},{"h":9.540,"v":53.5},{"h":9.560,"v":48.5},{"h":9.580,"v":56.0},{"h":9.600,"v":48.5},{"h":9.620,"v":51.0},{"h":9.640,"v":47.8},{"h":9.660,"v":53.0},{"h":9.680,"v":48.0},{"h":9.700,"v":50.5},{"h":9.720,"v":47.5},{"h":9.740,"v":52.0},{"h":9.760,"v":48.5},{"h":9.780,"v":54.5},{"h":9.800,"v":48.5},{"h":9.820,"v":51.0},{"h":9.840,"v":48.0},{"h":9.855,"v":55.0},{"h":9.870,"v":60.0},{"h":9.880,"v":66.0},{"h":9.888,"v":72.3},{"h":9.895,"v":70.0},{"h":9.902,"v":67.0},{"h":9.910,"v":62.0},{"h":9.920,"v":58.0},{"h":9.935,"v":53.0},{"h":9.950,"v":50.0},{"h":9.970,"v":54.0},{"h":9.990,"v":48.5},{"h":10.010,"v":52.5},{"h":10.030,"v":49.0},{"h":10.050,"v":53.5},{"h":10.070,"v":48.5},{"h":10.090,"v":51.0},{"h":10.110,"v":49.0},{"h":10.130,"v":55.0},{"h":10.150,"v":49.5},{"h":10.170,"v":52.0},{"h":10.190,"v":48.5},{"h":10.210,"v":54.0},{"h":10.230,"v":49.0},{"h":10.250,"v":51.5},{"h":10.270,"v":48.5},{"h":10.290,"v":53.0},{"h":10.310,"v":49.5},{"h":10.330,"v":52.0},{"h":10.350,"v":50.0},{"h":10.365,"v":56.0},{"h":10.375,"v":60.0},{"h":10.385,"v":65.0},{"h":10.395,"v":64.0},{"h":10.402,"v":69.3},{"h":10.410,"v":66.0},{"h":10.418,"v":63.0},{"h":10.428,"v":58.0},{"h":10.440,"v":55.0},{"h":10.455,"v":52.0},{"h":10.470,"v":56.0},{"h":10.490,"v":49.5},{"h":10.510,"v":54.0},{"h":10.530,"v":49.0},{"h":10.550,"v":52.5},{"h":10.570,"v":48.5},{"h":10.590,"v":55.0},{"h":10.610,"v":49.5},{"h":10.630,"v":51.5},{"h":10.650,"v":48.5},{"h":10.670,"v":53.0},{"h":10.690,"v":49.0},{"h":10.710,"v":51.0},{"h":10.730,"v":48.0},{"h":10.750,"v":54.5},{"h":10.770,"v":49.5},{"h":10.790,"v":52.0},{"h":10.810,"v":48.5},{"h":10.830,"v":51.0},{"h":10.850,"v":48.0},{"h":10.870,"v":53.5},{"h":10.890,"v":49.0},{"h":10.910,"v":51.5},{"h":10.930,"v":48.0},{"h":10.950,"v":55.5},{"h":10.970,"v":49.5},{"h":10.990,"v":52.0},{"h":11.010,"v":52.0},{"h":11.030,"v":49.0},{"h":11.050,"v":54.5},{"h":11.070,"v":50.0},{"h":11.090,"v":53.0},{"h":11.110,"v":49.5},{"h":11.130,"v":52.5},{"h":11.150,"v":49.0},{"h":11.170,"v":54.0},{"h":11.190,"v":50.0},{"h":11.210,"v":51.5},{"h":11.230,"v":49.0},{"h":11.250,"v":53.5},{"h":11.270,"v":50.0},{"h":11.290,"v":52.0},{"h":11.310,"v":49.5},{"h":11.330,"v":54.0},{"h":11.350,"v":50.5},{"h":11.370,"v":52.0},{"h":11.390,"v":49.0},{"h":11.410,"v":55.7},{"h":11.430,"v":50.0},{"h":11.450,"v":52.5},{"h":11.470,"v":49.0},{"h":11.490,"v":53.0},{"h":11.510,"v":49.5},{"h":11.530,"v":51.0},{"h":11.550,"v":48.0},{"h":11.570,"v":53.5},{"h":11.590,"v":48.5},{"h":11.610,"v":51.0},{"h":11.630,"v":47.8},{"h":11.650,"v":52.5},{"h":11.670,"v":49.0},{"h":11.690,"v":50.5},{"h":11.710,"v":48.0},{"h":11.730,"v":53.0},{"h":11.750,"v":49.5},{"h":11.770,"v":51.5},{"h":11.790,"v":49.0},{"h":11.810,"v":55.0},{"h":11.830,"v":50.5},{"h":11.850,"v":53.5},{"h":11.870,"v":50.0},{"h":11.890,"v":54.5},{"h":11.910,"v":51.0},{"h":11.930,"v":53.0},{"h":11.950,"v":50.5},{"h":11.965,"v":59.9},{"h":11.980,"v":51.0},{"h":12.000,"v":48.0},{"h":12.020,"v":53.5},{"h":12.040,"v":47.5},{"h":12.060,"v":52.0},{"h":12.080,"v":46.8},{"h":12.100,"v":51.0},{"h":12.120,"v":47.5},{"h":12.140,"v":54.0},{"h":12.160,"v":48.5},{"h":12.180,"v":56.9},{"h":12.200,"v":48.0},{"h":12.220,"v":51.5},{"h":12.240,"v":46.6},{"h":12.260,"v":50.5},{"h":12.280,"v":47.5},{"h":12.300,"v":52.0},{"h":12.320,"v":46.8},{"h":12.340,"v":51.0},{"h":12.360,"v":47.5},{"h":12.380,"v":49.5},{"h":12.400,"v":46.6},{"h":12.420,"v":51.5},{"h":12.440,"v":47.5},{"h":12.460,"v":53.0},{"h":12.480,"v":48.0},{"h":12.490,"v":56.2},{"h":12.505,"v":48.5},{"h":12.530,"v":51.0},{"h":12.550,"v":47.0},{"h":12.570,"v":52.5},{"h":12.590,"v":46.8},{"h":12.610,"v":50.5},{"h":12.630,"v":47.0},{"h":12.650,"v":49.5},{"h":12.670,"v":46.6},{"h":12.690,"v":50.0},{"h":12.710,"v":47.2},{"h":12.730,"v":49.0},{"h":12.750,"v":46.8},{"h":12.770,"v":48.5},{"h":12.790,"v":47.5},{"h":12.800,"v":58.8},{"h":12.810,"v":48.0},{"h":12.830,"v":49.5},{"h":12.850,"v":47.0},{"h":12.863,"v":48.2}
    ]
  },
  "vconcat": [
    {
      "width": 984, "height": 510,
      "resolve": {"axis": {"x": "independent", "y": "independent"}},
      "layer": [
        {
          "data": {"name": "s1"},
          "mark": {"type": "line", "color": "#0072BD", "strokeWidth": 1},
          "encoding": {
            "x": {"field": "h", "type": "quantitative", "scale": {"domain": [0, 7.02], "nice": false, "zero": false},
              "axis": {"orient": "bottom", "values": [0, 1, 2, 3, 4, 5, 6, 7.02], "grid": true, "labelPadding": 14,
                "titleX": 479, "titleY": 18,
                "labelExpr": "datum.value > 7 ? '06:5' : '0' + datum.value + ':00'",
                "labelAlign": {"condition": {"test": "datum.value > 7", "value": "right"}, "value": "center"},
                "title": "Time of Day (24-hour format)"}},
            "y": {"field": "v", "type": "quantitative", "scale": {"domain": [0, 100], "nice": false, "zero": false},
              "axis": {"orient": "left", "values": [0, 10, 20, 30, 40, 50, 60, 70, 80, 90, 100], "grid": true, "labelPadding": 16,
                "titleX": -25, "titleY": 270, "titleAngle": -90,
                "title": "Sound Pressure Level (dBA)"}}
          }
        },
        {
          "data": {"name": "boxes"},
          "transform": [{"filter": "datum.p == 1"}],
          "mark": {"type": "rect", "fill": "white", "stroke": "black"},
          "encoding": {
            "x": {"field": "x", "type": "quantitative", "scale": {"domain": [0, 7.02], "nice": false, "zero": false},
              "axis": {"orient": "top", "values": [0, 1, 2, 3, 4, 5, 6, 7.02], "labels": false, "grid": false, "title": null}},
            "x2": {"field": "x2"},
            "y": {"field": "y", "type": "quantitative", "scale": {"domain": [0, 100], "nice": false, "zero": false},
              "axis": {"orient": "right", "values": [0, 10, 20, 30, 40, 50, 60, 70, 80, 90, 100], "labels": false, "grid": false, "title": null}},
            "y2": {"field": "y2"},
            "strokeWidth": {"field": "kind", "type": "nominal", "scale": {"domain": ["tp", "date"], "range": [2.5, 1]}, "legend": null}
          }
        },
        {
          "data": {"name": "boxes"},
          "transform": [{"filter": "datum.p == 1"}],
          "mark": {"type": "text", "font": "Liberation Serif", "align": "center", "baseline": "middle", "color": "black"},
          "encoding": {
            "x": {"field": "tx", "type": "quantitative", "axis": null},
            "y": {"field": "ty", "type": "quantitative", "axis": null},
            "text": {"field": "label"},
            "size": {"field": "kind", "type": "nominal", "scale": {"domain": ["tp", "date"], "range": [24, 32]}, "legend": null}
          }
        },
        {
          "data": {"name": "arrows"},
          "transform": [{"filter": "datum.p == 1"}],
          "mark": {"type": "rule", "color": "black", "strokeWidth": 2},
          "encoding": {
            "x": {"field": "x", "type": "quantitative", "axis": null},
            "y": {"field": "y", "type": "quantitative", "axis": null},
            "x2": {"field": "x2"},
            "y2": {"field": "y2"}
          }
        },
        {
          "data": {"name": "arrows"},
          "transform": [{"filter": "datum.id == 'a1'"}],
          "mark": {"type": "point", "shape": "M0,0L-0.6,1.4L0.6,1.4Z", "filled": true, "color": "black", "opacity": 1, "size": 400, "angle": 222.6, "strokeWidth": 0},
          "encoding": {"x": {"field": "x2", "type": "quantitative", "axis": null}, "y": {"field": "y2", "type": "quantitative", "axis": null}}
        },
        {
          "data": {"name": "arrows"},
          "transform": [{"filter": "datum.id == 'a2'"}],
          "mark": {"type": "point", "shape": "M0,0L-0.6,1.4L0.6,1.4Z", "filled": true, "color": "black", "opacity": 1, "size": 400, "angle": 199.1, "strokeWidth": 0},
          "encoding": {"x": {"field": "x2", "type": "quantitative", "axis": null}, "y": {"field": "y2", "type": "quantitative", "axis": null}}
        }
      ]
    },
    {
      "width": 983, "height": 510,
      "resolve": {"axis": {"x": "independent", "y": "independent"}},
      "layer": [
        {
          "data": {"name": "s2"},
          "mark": {"type": "line", "color": "#0072BD", "strokeWidth": 1},
          "encoding": {
            "x": {"field": "h", "type": "quantitative", "scale": {"domain": [0, 8.94], "range": [11, 983], "nice": false, "zero": false},
              "axis": {"orient": "bottom", "values": [0, 2, 4, 6, 8.94], "grid": true, "labelPadding": 14,
                "titleX": 485, "titleY": 18,
                "labelExpr": "datum.value > 8.9 ? '06:5' : ((22 + datum.value) % 24 < 10 ? '0' : '') + ((22 + datum.value) % 24) + ':00'",
                "labelAlign": {"condition": {"test": "datum.value > 8.9", "value": "right"}, "value": "center"},
                "title": "Time of Day (24-hour format)"}},
            "y": {"field": "v", "type": "quantitative", "scale": {"domain": [0, 100], "nice": false, "zero": false},
              "axis": {"orient": "left", "offset": -11, "values": [0, 10, 20, 30, 40, 50, 60, 70, 80, 90, 100], "grid": true, "labelPadding": 16,
                "titleX": -25, "titleY": 265, "titleAngle": -90,
                "title": "Sound Pressure Level (dBA)"}}
          }
        },
        {
          "data": {"name": "boxes"},
          "transform": [{"filter": "datum.p == 2"}],
          "mark": {"type": "rect", "fill": "white", "stroke": "black"},
          "encoding": {
            "x": {"field": "x", "type": "quantitative", "scale": {"domain": [0, 8.94], "range": [11, 983], "nice": false, "zero": false},
              "axis": {"orient": "top", "values": [0, 2, 4, 6, 8.94], "labels": false, "grid": false, "title": null}},
            "x2": {"field": "x2"},
            "y": {"field": "y", "type": "quantitative", "scale": {"domain": [0, 100], "nice": false, "zero": false},
              "axis": {"orient": "right", "values": [0, 10, 20, 30, 40, 50, 60, 70, 80, 90, 100], "labels": false, "grid": false, "title": null}},
            "y2": {"field": "y2"},
            "strokeWidth": {"field": "kind", "type": "nominal", "scale": {"domain": ["tp", "date"], "range": [2.5, 1]}, "legend": null}
          }
        },
        {
          "data": {"name": "boxes"},
          "transform": [{"filter": "datum.p == 2"}],
          "mark": {"type": "text", "font": "Liberation Serif", "align": "center", "baseline": "middle", "color": "black"},
          "encoding": {
            "x": {"field": "tx", "type": "quantitative", "axis": null},
            "y": {"field": "ty", "type": "quantitative", "axis": null},
            "text": {"field": "label"},
            "size": {"field": "kind", "type": "nominal", "scale": {"domain": ["tp", "date"], "range": [24, 32]}, "legend": null}
          }
        },
        {
          "data": {"name": "arrows"},
          "transform": [{"filter": "datum.p == 2"}],
          "mark": {"type": "rule", "color": "black", "strokeWidth": 2},
          "encoding": {
            "x": {"field": "x", "type": "quantitative", "axis": null},
            "y": {"field": "y", "type": "quantitative", "axis": null},
            "x2": {"field": "x2"},
            "y2": {"field": "y2"}
          }
        },
        {
          "data": {"name": "arrows"},
          "transform": [{"filter": "datum.id == 'b1'"}],
          "mark": {"type": "point", "shape": "M0,0L-0.6,1.4L0.6,1.4Z", "filled": true, "color": "black", "opacity": 1, "size": 400, "angle": 164.4, "strokeWidth": 0},
          "encoding": {"x": {"field": "x2", "type": "quantitative", "axis": null}, "y": {"field": "y2", "type": "quantitative", "axis": null}}
        },
        {
          "data": {"name": "arrows"},
          "transform": [{"filter": "datum.id == 'b2'"}],
          "mark": {"type": "point", "shape": "M0,0L-0.6,1.4L0.6,1.4Z", "filled": true, "color": "black", "opacity": 1, "size": 400, "angle": 98.6, "strokeWidth": 0},
          "encoding": {"x": {"field": "x2", "type": "quantitative", "axis": null}, "y": {"field": "y2", "type": "quantitative", "axis": null}}
        }
      ]
    },
    {
      "width": 984, "height": 517,
      "resolve": {"axis": {"x": "independent", "y": "independent"}},
      "layer": [
        {
          "data": {"name": "s3"},
          "mark": {"type": "line", "color": "#0072BD", "strokeWidth": 1},
          "encoding": {
            "x": {"field": "h", "type": "quantitative", "scale": {"domain": [0, 12.863], "nice": false, "zero": false},
              "axis": {"orient": "bottom", "values": [0, 2, 4, 6, 8, 10], "grid": true, "labelPadding": 14,
                "titleX": 485, "titleY": 16,
                "labelExpr": "((22 + datum.value) % 24 < 10 ? '0' : '') + ((22 + datum.value) % 24) + ':00'",
                "title": "Time of Day (24-hour format)"}},
            "y": {"field": "v", "type": "quantitative", "scale": {"domain": [0, 100], "nice": false, "zero": false},
              "axis": {"orient": "left", "values": [0, 10, 20, 30, 40, 50, 60, 70, 80, 90, 100], "grid": true, "labelPadding": 16,
                "titleX": -25, "titleY": 273, "titleAngle": -90,
                "title": "Sound Pressure Level (dBA)"}}
          }
        },
        {
          "data": {"name": "boxes"},
          "transform": [{"filter": "datum.p == 3"}],
          "mark": {"type": "rect", "fill": "white", "stroke": "black"},
          "encoding": {
            "x": {"field": "x", "type": "quantitative", "scale": {"domain": [0, 12.863], "nice": false, "zero": false},
              "axis": {"orient": "top", "values": [0, 2, 4, 6, 8, 10], "labels": false, "grid": false, "title": null}},
            "x2": {"field": "x2"},
            "y": {"field": "y", "type": "quantitative", "scale": {"domain": [0, 100], "nice": false, "zero": false}, "axis": null},
            "y2": {"field": "y2"},
            "strokeWidth": {"field": "kind", "type": "nominal", "scale": {"domain": ["tp", "date"], "range": [2.5, 1]}, "legend": null}
          }
        },
        {
          "data": {"name": "boxes"},
          "transform": [{"filter": "datum.p == 3"}],
          "mark": {"type": "text", "font": "Liberation Serif", "align": "center", "baseline": "middle", "color": "black"},
          "encoding": {
            "x": {"field": "tx", "type": "quantitative", "axis": null},
            "y": {"field": "ty", "type": "quantitative", "axis": null},
            "text": {"field": "label"},
            "size": {"field": "kind", "type": "nominal", "scale": {"domain": ["tp", "date"], "range": [24, 32]}, "legend": null}
          }
        },
        {
          "data": {"name": "arrows"},
          "transform": [{"filter": "datum.p == 3"}],
          "mark": {"type": "rule", "color": "black", "strokeWidth": 2},
          "encoding": {
            "x": {"field": "x", "type": "quantitative", "axis": null},
            "y": {"field": "y", "type": "quantitative", "axis": null},
            "x2": {"field": "x2"},
            "y2": {"field": "y2"}
          }
        },
        {
          "data": {"name": "arrows"},
          "transform": [{"filter": "datum.id == 'c1'"}],
          "mark": {"type": "point", "shape": "M0,0L-0.6,1.4L0.6,1.4Z", "filled": true, "color": "black", "opacity": 1, "size": 400, "angle": 244.4, "strokeWidth": 0},
          "encoding": {"x": {"field": "x2", "type": "quantitative", "axis": null}, "y": {"field": "y2", "type": "quantitative", "axis": null}}
        },
        {
          "data": {"name": "arrows"},
          "transform": [{"filter": "datum.id == 'c2'"}],
          "mark": {"type": "point", "shape": "M0,0L-0.6,1.4L0.6,1.4Z", "filled": true, "color": "black", "opacity": 1, "size": 400, "angle": 118.4, "strokeWidth": 0},
          "encoding": {"x": {"field": "x2", "type": "quantitative", "axis": null}, "y": {"field": "y2", "type": "quantitative", "axis": null}}
        },
        {
          "data": {"name": "arrows"},
          "transform": [{"filter": "datum.id == 'c3'"}],
          "mark": {"type": "point", "shape": "M0,0L-0.6,1.4L0.6,1.4Z", "filled": true, "color": "black", "opacity": 1, "size": 400, "angle": 115.1, "strokeWidth": 0},
          "encoding": {"x": {"field": "x2", "type": "quantitative", "axis": null}, "y": {"field": "y2", "type": "quantitative", "axis": null}}
        }
      ]
    }
  ]
}
